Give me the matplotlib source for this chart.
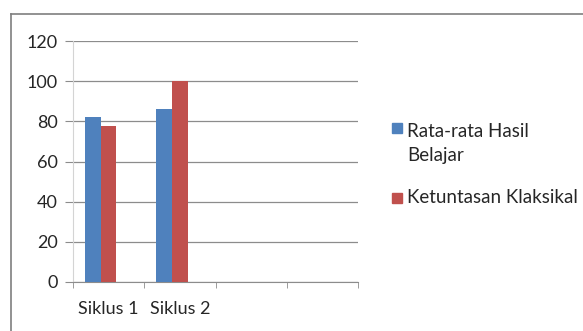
import matplotlib.pyplot as plt
from matplotlib.lines import Line2D
from matplotlib.patches import Rectangle
import numpy as np

plt.rcParams['font.family'] = ['Lato', 'DejaVu Sans']

categories = ['Siklus 1', 'Siklus 2', '', '']
rata_rata = [82, 86]
ketuntasan = [77.5, 100]
series_names = ['Rata-rata Hasil\nBelajar', 'Ketuntasan Klaksikal']
colors = ['#4F81BD', '#C0504D']
yticks = [0, 20, 40, 60, 80, 100, 120]

W, H = 583, 331
fig = plt.figure(figsize=(W / 100, H / 100), dpi=100)
ax = fig.add_axes([73 / W, 1 - 282 / H, 285 / W, 241 / H])

x = np.arange(len(rata_rata))
w = 0.22
off = -0.11
ax.bar(x + off - w / 2, rata_rata, w, color=colors[0], zorder=3)
ax.bar(x + off + w / 2, ketuntasan, w, color=colors[1], zorder=3)

ax.set_xlim(-0.5, len(categories) - 0.5)
ax.set_ylim(0, 120)
ax.set_yticks(yticks)
ax.yaxis.grid(True, color='#8c8c8c', linewidth=0.9, zorder=0)
ax.set_axisbelow(True)

ax.set_xticks(np.arange(len(categories)))
ax.set_xticklabels(categories, fontsize=13, color='#262626')
ax.set_xticks(np.arange(len(categories) + 1) - 0.5, minor=True)
ax.tick_params(axis='x', which='major', length=0, pad=14)
ax.tick_params(axis='x', which='minor', length=4, color='#8c8c8c', direction='out')
ax.tick_params(axis='y', length=6, color='#8c8c8c', labelsize=13, labelcolor='#262626', pad=5)

for s in ['top', 'right']:
    ax.spines[s].set_visible(False)
ax.spines['left'].set_color('#d4d4d4')
ax.spines['bottom'].set_color('#8c8c8c')

# legend drawn by hand so the square sits on the first text line
def px(xp, yp):
    return xp / W, 1 - yp / H

sq = 10
for c, yc in zip(colors, [127.5, 197.5]):
    x0, y0 = px(392, yc + sq / 2)
    fig.add_artist(Rectangle((x0, y0), sq / W, sq / H, color=c, transform=fig.transFigure))
for name, yc in zip(series_names, [143.5, 197.5]):
    fig.text(*px(407, yc), name, fontsize=13.5, color='#262626', va='center', ha='left',
             linespacing=1.5)

# chart border (top and left visible)
fig.add_artist(Line2D([11 / W, 1.0], [1 - 14 / H, 1 - 14 / H], color='#7f7f7f', linewidth=1.2))
fig.add_artist(Line2D([11 / W, 11 / W], [0.0, 1 - 14 / H], color='#7f7f7f', linewidth=1.2))

fig.savefig('out.png', dpi=100)
